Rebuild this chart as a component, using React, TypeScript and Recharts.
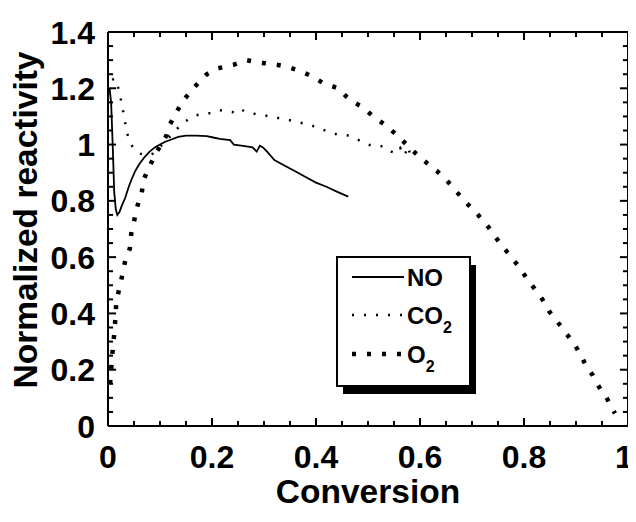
import { Line, LineChart, ReferenceLine, XAxis, YAxis } from "recharts";

// NO (solid line)
const noX = [0.003, 0.006, 0.009, 0.012, 0.015, 0.018, 0.022, 0.027, 0.033, 0.039, 0.045, 0.052, 0.06, 0.07, 0.08, 0.09, 0.1, 0.11, 0.122, 0.135, 0.15, 0.17, 0.19, 0.2, 0.215, 0.235, 0.242, 0.26, 0.278, 0.286, 0.292, 0.298, 0.306, 0.32, 0.34, 0.36, 0.38, 0.4, 0.42, 0.44, 0.462];
const noY = [1.2, 1.15, 1.0, 0.83, 0.77, 0.75, 0.76, 0.785, 0.81, 0.845, 0.875, 0.905, 0.93, 0.955, 0.975, 0.99, 1.0, 1.01, 1.018, 1.027, 1.032, 1.032, 1.03, 1.026, 1.02, 1.016, 1.0, 0.995, 0.99, 0.975, 0.996, 0.99, 0.975, 0.945, 0.925, 0.905, 0.885, 0.865, 0.85, 0.833, 0.815];

// CO2 (fine dots)
const co2X = [0.008, 0.013, 0.02, 0.026, 0.031, 0.036, 0.042, 0.048, 0.055, 0.062, 0.07, 0.078, 0.086, 0.095, 0.105, 0.115, 0.127, 0.14, 0.155, 0.17, 0.185, 0.2, 0.215, 0.23, 0.242, 0.254, 0.265, 0.28, 0.3, 0.32, 0.34, 0.36, 0.38, 0.4, 0.42, 0.44, 0.46, 0.48, 0.5, 0.515, 0.53, 0.545, 0.555, 0.562, 0.57, 0.577, 0.581, 0.585];
const co2Y = [1.23, 1.235, 1.2, 1.15, 1.1, 1.045, 1.01, 0.99, 0.978, 0.968, 0.963, 0.962, 0.968, 0.985, 1.0, 1.02, 1.045, 1.07, 1.09, 1.104, 1.11, 1.112, 1.122, 1.118, 1.115, 1.128, 1.115, 1.11, 1.104, 1.097, 1.09, 1.083, 1.073, 1.063, 1.048, 1.036, 1.033, 1.018, 1.0, 0.993, 0.994, 0.975, 0.968, 0.987, 0.96, 0.994, 0.965, 0.985];

// O2 (heavy dots)
const o2X = [0.004, 0.008, 0.013, 0.016, 0.023, 0.029, 0.034, 0.042, 0.045, 0.05, 0.055, 0.065, 0.068, 0.081, 0.094, 0.113, 0.117, 0.132, 0.148, 0.167, 0.19, 0.212, 0.241, 0.267, 0.292, 0.318, 0.344, 0.369, 0.394, 0.414, 0.443, 0.465, 0.488, 0.51, 0.533, 0.558, 0.581, 0.606, 0.632, 0.651, 0.67, 0.687, 0.709, 0.731, 0.747, 0.757, 0.773, 0.789, 0.805, 0.821, 0.836, 0.849, 0.864, 0.881, 0.896, 0.911, 0.92, 0.932, 0.94, 0.948, 0.958, 0.965, 0.975];
const o2Y = [0.15, 0.25, 0.348, 0.44, 0.5, 0.548, 0.596, 0.63, 0.69, 0.726, 0.773, 0.829, 0.874, 0.927, 0.975, 1.034, 1.064, 1.117, 1.164, 1.206, 1.25, 1.271, 1.283, 1.3, 1.291, 1.286, 1.277, 1.262, 1.241, 1.218, 1.2, 1.158, 1.135, 1.1, 1.07, 1.03, 0.987, 0.945, 0.907, 0.874, 0.833, 0.797, 0.756, 0.708, 0.667, 0.643, 0.606, 0.569, 0.525, 0.486, 0.448, 0.406, 0.371, 0.329, 0.294, 0.246, 0.211, 0.181, 0.152, 0.128, 0.104, 0.078, 0.045];

const xLabels = [0, 0.2, 0.4, 0.6, 0.8, 1];
const yLabels = [0, 0.2, 0.4, 0.6, 0.8, 1, 1.2, 1.4];
const xTicks = [0, 0.05, 0.1, 0.15, 0.2, 0.25, 0.3, 0.35, 0.4, 0.45, 0.5, 0.55, 0.6, 0.65, 0.7, 0.75, 0.8, 0.85, 0.9, 0.95, 1];
const yTicks = [0, 0.05, 0.1, 0.15, 0.2, 0.25, 0.3, 0.35, 0.4, 0.45, 0.5, 0.55, 0.6, 0.65, 0.7, 0.75, 0.8, 0.85, 0.9, 0.95, 1, 1.05, 1.1, 1.15, 1.2, 1.25, 1.3, 1.35, 1.4];

const X_MIN = 0;
const X_MAX = 1;
const Y_MIN = 0;
const Y_MAX = 1.4;

const toPoints = (xs: number[], ys: number[]) => xs.map((x, i) => ({ x, y: ys[i] }));
const noData = toPoints(noX, noY);
const co2Data = toPoints(co2X, co2Y);
const o2Data = toPoints(o2X, o2Y);

const FONT = "'Liberation Sans', Arial, Helvetica, sans-serif";
const isMajor = (v: number) => xLabels.concat(yLabels).some((m) => Math.abs(m - v) < 1e-6);

// inward tick lengths in data units (about 8px major / 5px minor)
const xTickLen = (v: number) => (isMajor(v) ? 0.028 : 0.018);
const yTickLen = (v: number) => (isMajor(v) ? 0.0155 : 0.0097);

const tickStyle = { fontFamily: FONT, fontWeight: 700, fontSize: 32, fill: "#000" };
const titleStyle = { fontFamily: FONT, fontWeight: 700, fontSize: 33.5, fill: "#000" };
const legendStyle = { fontFamily: FONT, fontWeight: 700, fontSize: 24, fill: "#000" };

// default tickSize 6 + tickMargin 2 put the tick anchor 8px off the axis
const BottomTick = (props: any) => {
   const { x, y, payload } = props;
   const dx = payload.value === 1 ? -4 : 0;
   return (
      <text x={x + dx} y={y + 34} textAnchor="middle" style={tickStyle}>
         {String(payload.value)}
      </text>
   );
};

const LeftTick = (props: any) => {
   const { x, y, payload } = props;
   return (
      <text x={x - 5} y={y + 11.5} textAnchor="end" style={tickStyle}>
         {String(payload.value)}
      </text>
   );
};

const ref = { xAxisId: "b", yAxisId: "l", stroke: "#000", strokeWidth: 2 };

// legend box, in chart coordinates (chart sits at the body's 8px margin)
const LG = { x: 329, y: 249, w: 133, h: 129 };
const legendRows = [
   { name: "NO", sub: "", dy: 20, width: 1.8, dash: undefined as string | undefined },
   { name: "CO", sub: "2", dy: 58, width: 2.5, dash: "2 10" },
   { name: "O", sub: "2", dy: 97, width: 4.5, dash: "4 11" },
];

export default function App() {
   return (
      <div style={{ width: 620, height: 500 }}>
         <LineChart width={628} height={514} margin={{ top: 24, right: 8, bottom: 0, left: 0 }}>
            <XAxis
               xAxisId="b"
               type="number"
               dataKey="x"
               domain={[X_MIN, X_MAX]}
               ticks={xLabels}
               height={96}
               stroke="#000"
               axisLine={false}
               tickLine={false}
               tick={<BottomTick />}
            />
            <YAxis
               yAxisId="l"
               type="number"
               domain={[Y_MIN, Y_MAX]}
               ticks={yLabels}
               width={100}
               stroke="#000"
               axisLine={false}
               tickLine={false}
               tick={<LeftTick />}
            />
            <Line
               xAxisId="b"
               yAxisId="l"
               data={noData}
               dataKey="y"
               name="NO"
               type="linear"
               stroke="#000"
               strokeWidth={1.8}
               dot={false}
               isAnimationActive={false}
            />
            <Line
               xAxisId="b"
               yAxisId="l"
               data={co2Data}
               dataKey="y"
               name="CO2"
               type="linear"
               stroke="#000"
               strokeWidth={2.5}
               strokeDasharray="2 10"
               dot={false}
               isAnimationActive={false}
            />
            <Line
               xAxisId="b"
               yAxisId="l"
               data={o2Data}
               dataKey="y"
               name="O2"
               type="linear"
               stroke="#000"
               strokeWidth={4.5}
               strokeDasharray="4 11"
               dot={false}
               isAnimationActive={false}
            />
            {/* plot frame */}
            <ReferenceLine {...ref} y={Y_MIN} />
            <ReferenceLine {...ref} y={Y_MAX} />
            <ReferenceLine {...ref} x={X_MIN} />
            <ReferenceLine {...ref} x={X_MAX} />
            {/* inward ticks on all four sides */}
            {xTicks.map((v) => (
               <ReferenceLine key={`xb${v}`} {...ref} segment={[{ x: v, y: Y_MIN }, { x: v, y: Y_MIN + xTickLen(v) }]} />
            ))}
            {xTicks.map((v) => (
               <ReferenceLine key={`xt${v}`} {...ref} segment={[{ x: v, y: Y_MAX }, { x: v, y: Y_MAX - xTickLen(v) }]} />
            ))}
            {yTicks.map((v) => (
               <ReferenceLine key={`yl${v}`} {...ref} segment={[{ x: X_MIN, y: v }, { x: X_MIN + yTickLen(v), y: v }]} />
            ))}
            {yTicks.map((v) => (
               <ReferenceLine key={`yr${v}`} {...ref} segment={[{ x: X_MAX, y: v }, { x: X_MAX - yTickLen(v), y: v }]} />
            ))}
            {/* axis titles */}
            <text x={360} y={495} textAnchor="middle" style={titleStyle}>
               Conversion
            </text>
            <text x={29} y={212} textAnchor="middle" transform="rotate(-90 29 212)" style={titleStyle}>
               Normalized reactivity
            </text>
            {/* legend */}
            <rect x={LG.x + 6} y={LG.y + 8} width={LG.w} height={LG.h} fill="#000" />
            <rect x={LG.x} y={LG.y} width={LG.w} height={LG.h} fill="#fff" stroke="#000" strokeWidth={2} />
            {legendRows.map((r) => (
               <g key={r.name}>
                  <line
                     x1={LG.x + 15}
                     x2={LG.x + 67}
                     y1={LG.y + r.dy}
                     y2={LG.y + r.dy}
                     stroke="#000"
                     strokeWidth={r.width}
                     strokeDasharray={r.dash}
                  />
                  <text x={LG.x + 70} y={LG.y + r.dy + 8.5} style={legendStyle}>
                     {r.name}
                     {r.sub && (
                        <tspan fontSize={16} dy={9}>
                           {r.sub}
                        </tspan>
                     )}
                  </text>
               </g>
            ))}
         </LineChart>
      </div>
   );
}
